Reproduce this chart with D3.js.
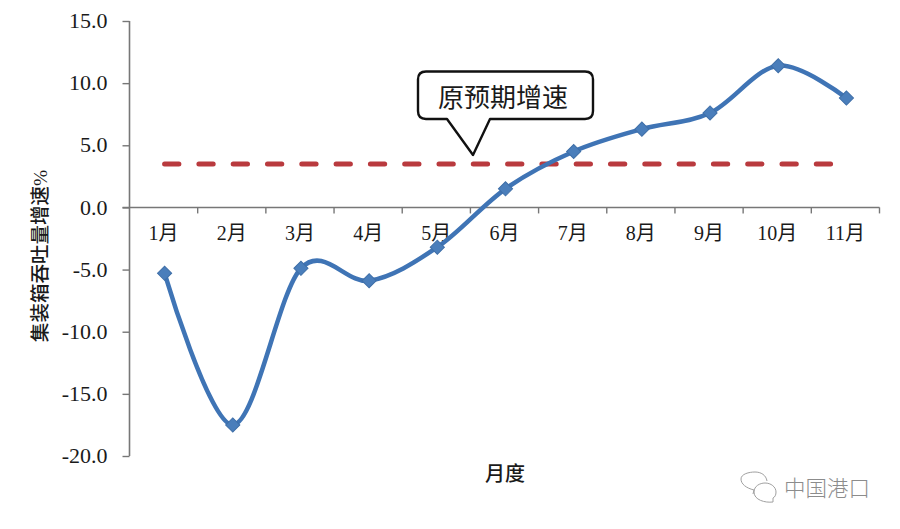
<!DOCTYPE html>
<html><head><meta charset="utf-8">
<script src="https://cdn.jsdelivr.net/npm/d3@7/dist/d3.min.js"></script>
<style>
html,body{margin:0;padding:0;background:#fff}
svg{display:block}
text{font-family:"Liberation Serif","Noto Sans CJK SC",serif;fill:#1a1a1a}
.domain{stroke:#777;stroke-width:1.6}
.tick line{stroke:#777;stroke-width:1.4}
</style></head><body>
<svg id="c" width="900" height="529"></svg>
<script>
const months=["1月","2月","3月","4月","5月","6月","7月","8月","9月","10月","11月"];
const growth=[-5.3,-17.5,-4.9,-5.9,-3.2,1.5,4.5,6.3,7.6,11.4,8.8];
const planned=[3.5,3.5,3.5,3.5,3.5,3.5,3.5,3.5,3.5,3.5,3.5];
const yTicks=[15,10,5,0,-5,-10,-15,-20];
const yTitle="集装箱吞吐量增速%";
const xTitle="月度";
const calloutText="原预期增速";
const watermark="中国港口";

const svg=d3.select("#c");
const x=d3.scaleBand().domain(months).range([129.5,879.5]);
const y=d3.scaleLinear().domain([-20,15]).range([456,21]);
const cx=m=>x(m)+x.bandwidth()/2+1;
const fmt=d3.formatLocale({decimal:".",thousands:",",grouping:[3],currency:["",""],minus:"-"}).format(".1f");

// y axis
const gy=svg.append("g").attr("transform","translate(129.5,0)")
  .call(d3.axisLeft(y).tickValues(yTicks).tickFormat(fmt).tickSize(7).tickPadding(15));
gy.selectAll("text").style("font-size","22px").attr("dy","0.3em");
gy.select(".domain").attr("d",`M0,${y(15)}V${y(-20)}`);

// x axis at zero, labels in band centres, ticks at band edges
const gx=svg.append("g").attr("transform",`translate(0,${y(0)})`)
  .call(d3.axisBottom(x).tickSize(0).tickPadding(18));
gx.selectAll("text").style("font-size","20px");
gx.select(".domain").attr("d","M122.5,0H879.5");
gx.selectAll("line.edge").data(months).enter().append("line").attr("class","edge")
  .attr("x1",m=>x(m)+x.bandwidth()).attr("x2",m=>x(m)+x.bandwidth())
  .attr("y1",0).attr("y2",6).attr("stroke","#777").attr("stroke-width",1.4);

// titles
svg.append("text").attr("transform","translate(47,256) rotate(-90)")
  .attr("text-anchor","middle").style("font-size","19.5px").style("font-weight",500).text(yTitle);
svg.append("text").attr("x",505).attr("y",481).attr("text-anchor","middle")
  .style("font-size","20px").style("font-weight",500).text(xTitle);

// planned dashed line
const line=d3.line().x((d,i)=>cx(months[i])).y(d=>y(d));
svg.append("path").datum(planned).attr("d",line.curve(d3.curveLinear))
  .attr("fill","none").attr("stroke","#b93a3e").attr("stroke-width",5)
  .attr("stroke-linecap","round").attr("stroke-dasharray","14.3 20").attr("stroke-dashoffset",0);

// growth line
svg.append("path").datum(growth).attr("d",line.curve(d3.curveCatmullRom.alpha(0)))
  .attr("fill","none").attr("stroke","#3f74b5").attr("stroke-width",4.5);
svg.append("g").selectAll("path").data(growth).enter().append("path")
  .attr("d",d3.symbol().type(d3.symbolSquare).size(100))
  .attr("transform",(d,i)=>`translate(${cx(months[i])},${y(d)}) rotate(45)`)
  .attr("fill","#4a7ebb").attr("stroke","#3f6fa8").attr("stroke-width",1);

// callout
svg.append("path")
  .attr("d","M426,71.5H585Q593,71.5 593,79.5V111Q593,119 585,119H490L473,155L447,119H426Q418,119 418,111V79.5Q418,71.5 426,71.5Z")
  .attr("fill","#fff").attr("stroke","#111").attr("stroke-width",2.4).attr("stroke-linejoin","round");
svg.append("text").attr("x",503).attr("y",107).attr("text-anchor","middle")
  .style("font-size","26px").text(calloutText);

// watermark
const wm=svg.append("g").attr("fill","none").attr("stroke","#a0a0a0").attr("stroke-width",1);
wm.append("path").attr("d","M753,494L754,490C746,488 741,484 741,479C741,474 749,472 755,472C761,472 766,475 767,481");
wm.append("path").attr("d","M773,502C765,503 754,500 754,492C754,486 760,483 765,483C771,483 776,487 776,492C776,495 775,497 773,498Z");
svg.append("text").attr("x",784).attr("y",496).style("font-size","21.5px")
  .style("font-family","'Noto Sans CJK SC'").style("font-weight",300).style("fill","#8c8c8c").text(watermark);
</script>
</body></html>
